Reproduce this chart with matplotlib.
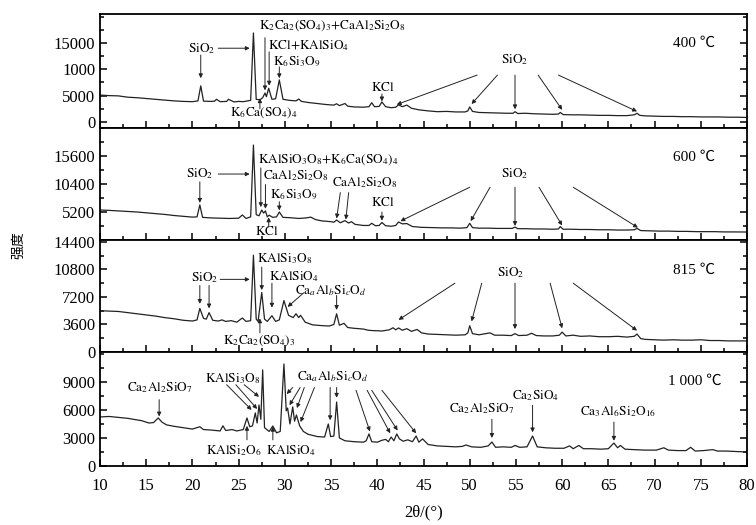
import matplotlib
matplotlib.use("Agg")
import matplotlib.pyplot as plt
from matplotlib.ticker import FixedLocator, FixedFormatter, MultipleLocator

plt.rcParams['font.family'] = ['Liberation Serif', 'Noto Sans CJK SC', 'DejaVu Sans']
plt.rcParams['mathtext.fontset'] = 'stix'

# ---------------- data (2θ in degrees, intensity) ----------------
x400 = [10, 11, 12, 13, 14, 15, 16, 17, 18, 19, 20, 20.6, 20.9, 21.2, 22, 22.4, 22.6, 23, 23.7, 23.9,
        24.5, 25, 25.5, 26.3, 26.6, 26.9, 27.3, 27.6, 27.85, 28.0, 28.25, 28.6, 29.0, 29.4, 29.8, 30.5,
        31.2, 31.5, 31.8, 32.5, 33.5, 34.5, 35.3, 35.6, 35.9, 36.5, 36.8, 37.5, 38.5, 39.1, 39.4, 39.7,
        40.2, 40.5, 40.9, 41.5, 42.0, 42.3, 42.7, 43.2, 43.7, 44.5, 45.5, 46.5, 47.5, 48.5, 49.5, 49.8,
        50.0, 50.3, 51, 52, 53, 54, 54.7, 54.9, 55.2, 56, 57, 58, 59, 59.6, 59.8, 60.1, 61, 62, 63, 64,
        65, 66, 67, 67.8, 68.1, 68.4, 69, 70, 71, 72, 73, 74, 75, 76, 77, 78, 79, 80]
y400 = [5100, 5000, 4950, 4700, 4600, 4450, 4300, 4150, 4000, 3900, 3850, 4000, 6850, 3950, 3900, 3950,
        4300, 3850, 3900, 4300, 3800, 3900, 3850, 4100, 16900, 4300, 4200, 4600, 5500, 4800, 6400, 4300,
        4400, 7980, 4300, 4100, 4000, 4350, 3900, 3700, 3500, 3300, 3200, 3450, 3100, 3500, 3000, 2850,
        2800, 2900, 3650, 2900, 2950, 3800, 2900, 2700, 2800, 3250, 2900, 3200, 2600, 2300, 2100, 1950,
        2000, 1900, 1900, 2100, 2850, 2000, 1800, 1750, 1700, 1650, 1650, 1950, 1600, 1650, 1550, 1500,
        1450, 1500, 1800, 1400, 1350, 1350, 1300, 1250, 1250, 1200, 1200, 1350, 1650, 1250, 1150, 1100,
        1050, 1050, 1000, 1000, 950, 950, 950, 900, 900, 850]

x600 = [10, 11, 12, 13, 14, 15, 16, 17, 18, 19, 20, 20.5, 20.8, 21.1, 22, 23, 24, 25, 25.4, 25.8, 26.3,
        26.6, 26.9, 27.2, 27.5, 27.7, 27.9, 28.1, 28.3, 28.7, 29.1, 29.4, 29.8, 30.5, 31.5, 32.3, 32.8,
        33.3, 34, 35, 35.3, 35.6, 36.0, 36.5, 36.9, 37.2, 37.6, 38.5, 39.1, 39.4, 39.8, 40.2, 40.5, 40.9,
        41.5, 42.0, 42.3, 42.7, 43.2, 43.8, 44.8, 46, 47, 48, 49, 49.7, 50.0, 50.3, 51, 52, 53, 54, 54.6,
        54.9, 55.2, 56, 57, 58, 59, 59.6, 59.8, 60.1, 61, 62, 63, 64, 65, 66, 67, 67.8, 68.1, 68.5, 69.5,
        70.5, 71.5, 72.5, 73.5, 74.5, 75.5, 76.5, 77.5, 78.5, 80]
y600 = [5570, 5500, 5400, 5300, 5200, 5050, 4900, 4750, 4550, 4400, 4250, 4300, 6500, 4200, 4100, 4050,
        4000, 4050, 4650, 4000, 4300, 17640, 4700, 4500, 5570, 5000, 5400, 4300, 4600, 4200, 4300, 5200,
        4200, 4150, 4000, 4100, 4250, 3800, 3550, 3400, 3300, 3700, 3200, 3600, 3150, 3400, 2900, 2700,
        2700, 3100, 2650, 2700, 3250, 2650, 2550, 2700, 3350, 3000, 3050, 2500, 2350, 2300, 2250, 2250,
        2200, 2300, 3100, 2300, 2200, 2200, 2150, 2150, 2150, 2400, 2100, 2100, 2050, 2050, 2000, 2050,
        2500, 2000, 2000, 1950, 1950, 1900, 1900, 1850, 1850, 1900, 2150, 1750, 1700, 1650, 1650, 1600,
        1600, 1550, 1550, 1550, 1500, 1500, 1480]

x815 = [10, 11, 12, 13, 14, 15, 16, 17, 18, 19, 20, 20.5, 20.8, 21.2, 21.5, 21.8, 22.2, 22.8, 23.2, 23.6,
        24.2, 24.8, 25.4, 25.8, 26.3, 26.6, 26.9, 27.1, 27.5, 27.8, 28.1, 28.6, 29.0, 29.4, 29.9, 30.4,
        30.9, 31.2, 31.5, 31.7, 32.2, 33, 34, 34.8, 35.3, 35.6, 35.9, 36.4, 36.8, 37.5, 38.5, 39.0, 39.5,
        40.5, 41.3, 41.7, 42.0, 42.3, 42.7, 43.2, 43.7, 44.3, 44.8, 45.5, 46.5, 47.5, 48.5, 49.5, 49.8,
        50.0, 50.3, 51, 52.2, 52.7, 53.5, 54.5, 54.9, 55.3, 56.2, 56.7, 57.2, 58, 59, 59.7, 60.0, 60.4,
        61.2, 62, 63, 64, 65, 66, 67, 67.8, 68.1, 68.5, 69, 70, 71, 72, 73, 74, 75, 76, 77, 78, 79, 80]
y815 = [5400, 5350, 5300, 5150, 5000, 4850, 4700, 4500, 4350, 4150, 4050, 4200, 5700, 4400, 4300, 5150,
        4150, 4050, 4200, 4000, 4100, 3900, 4450, 4000, 4100, 12670, 4300, 4000, 7790, 4300, 4000, 4750,
        4000, 4200, 6730, 4800, 4500, 5000, 4500, 4800, 3900, 3550, 3450, 3400, 3600, 5000, 3500, 3750,
        3200, 3100, 3000, 2850, 2800, 2750, 2900, 3170, 2900, 3150, 2850, 3050, 2700, 2950, 2500, 2350,
        2300, 2250, 2200, 2250, 2500, 3430, 2400, 2250, 2500, 2200, 2200, 2150, 2400, 2150, 2200, 2450,
        2150, 2100, 2100, 2200, 2600, 2100, 2200, 2050, 2100, 2000, 2000, 2050, 1950, 2050, 2350, 1750,
        1650, 1600, 1550, 1600, 1550, 1550, 1600, 1500, 1500, 1450, 1450, 1450]

x1000 = [10, 11, 12, 13, 13.6, 14.5, 15.3, 15.8, 16.3, 16.7, 17.2, 18, 19, 20, 20.8, 21.2, 22, 23, 23.3,
         23.6, 24.3, 24.8, 25.5, 25.9, 26.2, 26.5, 26.8, 27.0, 27.2, 27.4, 27.6, 27.8, 28.3, 28.7, 29.1,
         29.5, 29.9, 30.15, 30.3, 30.55, 30.85, 31.05, 31.25, 31.6, 32.0, 32.5, 33.5, 34.3, 34.7, 34.95,
         35.3, 35.6, 35.9, 36.5, 37.5, 38.5, 38.8, 39.1, 39.4, 40.0, 40.5, 40.9, 41.2, 41.5, 41.8, 42.1,
         42.4, 42.8, 43.3, 43.8, 44.2, 44.5, 44.9, 45.5, 46.5, 47.5, 48.5, 49.2, 49.6, 50.2, 51.2, 52.0,
         52.4, 52.8, 53.6, 54.5, 54.9, 55.4, 56.2, 56.8, 57.3, 58.2, 59.2, 60.2, 60.8, 61.2, 61.8, 62.3,
         63.2, 64.2, 65.0, 65.6, 66.0, 66.3, 66.8, 67.8, 69, 70.2, 71.0, 71.5, 72.5, 73.4, 73.9, 74.4,
         75.3, 75.8, 76.3, 76.8, 77.8, 78.8, 80]
y1000 = [5250, 5300, 5200, 5100, 5000, 4850, 4600, 4650, 5140, 4700, 4400, 4250, 4100, 3950, 4200, 3900,
         3850, 3750, 4300, 3800, 3900, 3750, 3900, 5140, 4200, 4300, 5680, 4600, 6530, 5000, 10280, 4100,
         3700, 4280, 3550, 3700, 10920, 5900, 6200, 4500, 6320, 4800, 5460, 4300, 3700, 3400, 3150, 3100,
         4500, 3150, 3200, 6850, 3000, 2700, 2600, 2550, 2700, 3430, 2600, 2550, 2750, 2850, 2600, 3100,
         2700, 3430, 2900, 2650, 2800, 2600, 3210, 2550, 2900, 2300, 2150, 2100, 2050, 2100, 2250, 2050,
         2000, 2150, 2570, 2000, 2050, 2000, 2200, 2000, 2050, 3210, 2050, 1950, 1900, 1900, 2150, 1850,
         2200, 1850, 1850, 1800, 1850, 2460, 1950, 2200, 1800, 1750, 1700, 1700, 1950, 1700, 1650, 1650,
         2000, 1600, 1650, 1700, 1750, 1600, 1600, 1550, 1500]

temps = ['400 ℃', '600 ℃', '815 ℃', '1 000 ℃']
ylims = [(-1150, 20500), (0, 20800), (0, 14650), (0, 12200)]
ytick_pos = [[0, 5000, 10000, 15000], [5200, 10400, 15600], [0, 3600, 7200, 10800, 14400], [0, 3000, 6000, 9000]]
ytick_lab = [['0', '5000', '1000', '15000'], ['5200', '10400', '15600'],
             ['0', '3600', '7200', '10800', '14400'], ['0', '3000', '6000', '9000']]
yminor = [2500, 2600, 1800, 1500]
xticks = list(range(10, 81, 5))

series = [(x400, y400), (x600, y600), (x815, y815), (x1000, y1000)]

# annotations: (text, (x, y), ha)
labels = [
    [(r'$\mathrm{SiO_2}$', (21.0, 14000), 'center'),
     (r'$\mathrm{K_2Ca_2(SO_4)_3{+}CaAl_2Si_2O_8}$', (27.2, 18300), 'left'),
     (r'$\mathrm{KCl{+}KAlSiO_4}$', (28.15, 14500), 'left'),
     (r'$\mathrm{K_6Si_3O_9}$', (28.7, 11300), 'left'),
     (r'$\mathrm{K_6Ca(SO_4)_4}$', (24.1, 1700), 'left'),
     (r'$\mathrm{KCl}$', (40.6, 6500), 'center'),
     (r'$\mathrm{SiO_2}$', (54.9, 11800), 'center')],
    [(r'$\mathrm{SiO_2}$', (20.8, 12250), 'center'),
     (r'$\mathrm{KAlSiO_3O_8{+}K_6Ca(SO_4)_4}$', (27.1, 15000), 'left'),
     (r'$\mathrm{CaAl_2Si_2O_8}$', (27.65, 11900), 'left'),
     (r'$\mathrm{K_6Si_3O_9}$', (28.4, 8400), 'left'),
     (r'$\mathrm{KCl}$', (28.1, 1500), 'center'),
     (r'$\mathrm{CaAl_2Si_2O_8}$', (35.1, 10600), 'left'),
     (r'$\mathrm{KCl}$', (40.6, 6900), 'center'),
     (r'$\mathrm{SiO_2}$', (54.9, 12400), 'center')],
    [(r'$\mathrm{SiO_2}$', (21.3, 9750), 'center'),
     (r'$\mathrm{KAlSi_3O_8}$', (27.0, 12250), 'left'),
     (r'$\mathrm{KAlSiO_4}$', (28.3, 9900), 'left'),
     (r'$\mathrm{Ca}_a\mathrm{Al}_b\mathrm{Si}_c\mathrm{O}_d$', (31.1, 8050), 'left'),
     (r'$\mathrm{K_2Ca_2(SO_4)_3}$', (23.3, 1450), 'left'),
     (r'$\mathrm{SiO_2}$', (54.4, 10400), 'center')],
    [(r'$\mathrm{Ca_2Al_2SiO_7}$', (16.5, 8350), 'center'),
     (r'$\mathrm{KAlSi_3O_8}$', (24.3, 9400), 'center'),
     (r'$\mathrm{KAlSi_2O_6}$', (24.5, 1700), 'center'),
     (r'$\mathrm{KAlSiO_4}$', (30.7, 1700), 'center'),
     (r'$\mathrm{Ca}_a\mathrm{Al}_b\mathrm{Si}_c\mathrm{O}_d$', (35.2, 9600), 'center'),
     (r'$\mathrm{Ca_2Al_2SiO_7}$', (51.3, 6100), 'center'),
     (r'$\mathrm{Ca_2SiO_4}$', (57.1, 7500), 'center'),
     (r'$\mathrm{Ca_3Al_6Si_2O_{16}}$', (66.0, 5800), 'center')],
]

# arrows: (start, end)
arrows = [
    [((20.9, 12700), (20.9, 8300)), ((22.8, 14000), (26.2, 14000)),
     ((27.85, 16000), (27.85, 6000)), ((28.3, 13300), (28.3, 6900)),
     ((29.4, 10450), (29.4, 8300)), ((27.3, 2500), (27.3, 4500)),
     ((40.5, 5300), (40.5, 3900)),
     ((50.8, 8900), (42.1, 3300)), ((53.0, 8900), (50.2, 3400)), ((54.9, 8900), (54.9, 2400)),
     ((57.4, 8900), (60.0, 2300)), ((59.6, 8900), (68.1, 2000))],
    [((20.8, 10800), (20.8, 6900)), ((22.8, 12250), (26.2, 12250)),
     ((27.4, 13400), (27.4, 6100)), ((27.9, 10300), (27.9, 5800)),
     ((29.4, 7100), (29.4, 5500)), ((28.25, 2400), (28.25, 4200)),
     ((36.0, 8800), (35.6, 4000)), ((36.9, 8800), (36.6, 3800)),
     ((40.5, 5200), (40.5, 3600)),
     ((50.0, 9800), (42.5, 3500)), ((52.2, 9800), (50.1, 3500)), ((54.9, 9800), (54.9, 2600)),
     ((57.5, 9800), (60.0, 2700)), ((61.2, 9800), (68.2, 2300))],
    [((20.8, 8700), (20.8, 6300)), ((21.8, 8700), (21.8, 5700)), ((23.0, 9500), (26.2, 9500)),
     ((27.5, 11100), (27.5, 8100)), ((28.6, 9000), (28.6, 5800)),
     ((32.0, 7700), (30.3, 5900)), ((35.6, 7400), (35.6, 5500)),
     ((27.3, 2500), (27.3, 4400)),
     ((48.4, 9000), (42.3, 4200)), ((51.3, 9000), (50.2, 4000)), ((54.9, 9000), (54.9, 3000)),
     ((58.7, 9000), (60.0, 3100)), ((61.2, 9000), (68.1, 2800))],
    [((16.4, 7100), (16.4, 5300)),
     ((23.7, 8700), (26.4, 6000)), ((24.7, 8700), (27.0, 6100)), ((25.6, 8700), (27.2, 7400)),
     ((25.9, 2800), (25.9, 4300)), ((28.7, 2800), (28.7, 4200)),
     ((30.85, 8400), (30.2, 7700)), ((31.65, 8400), (30.5, 6500)), ((32.1, 8400), (31.3, 6200)),
     ((33.2, 8400), (31.7, 4700)), ((34.9, 8400), (34.9, 4900)), ((35.6, 8400), (35.6, 7300)),
     ((37.7, 8100), (39.2, 3700)), ((38.9, 8100), (41.4, 3500)), ((39.4, 8100), (42.2, 3800)),
     ((40.5, 8100), (44.2, 3500)),
     ((52.4, 5000), (52.4, 3000)), ((56.8, 6500), (56.8, 3600)), ((65.6, 4700), (65.6, 2700))],
]

fig = plt.figure(figsize=(7.56, 5.25), dpi=100)
left, right = 100 / 756, 747 / 756
edges = [14, 128, 240, 352, 466]
axes = []
for i in range(4):
    top = 1 - edges[i] / 525
    bot = 1 - edges[i + 1] / 525
    ax = fig.add_axes([left, bot, right - left, top - bot])
    axes.append(ax)
    xs, ys = series[i]
    ax.plot(xs, ys, color='#222222', lw=0.9)
    ax.set_xlim(10, 80)
    ax.set_ylim(*ylims[i])
    ax.xaxis.set_major_locator(FixedLocator(xticks))
    ax.xaxis.set_minor_locator(MultipleLocator(2.5))
    ax.yaxis.set_major_locator(FixedLocator(ytick_pos[i]))
    ax.yaxis.set_major_formatter(FixedFormatter(ytick_lab[i]))
    ax.yaxis.set_minor_locator(MultipleLocator(yminor[i]))
    ax.tick_params(which='both', direction='in', right=True, top=False, width=1.1)
    ax.tick_params(which='major', length=5, labelsize=12)
    ax.tick_params(which='minor', length=3)
    ax.tick_params(axis='x', which='major', pad=9)
    if i < 3:
        ax.tick_params(labelbottom=False)
    for s in ax.spines.values():
        s.set_linewidth(1.3)
    ax.text(74.3, ylims[i][1] * [0.73, 0.74, 0.73, 0.74][i], temps[i], ha='center', va='center', fontsize=11)
    for txt, (tx, ty), ha in labels[i]:
        ax.text(tx, ty, txt, ha=ha, va='center', fontsize=9.5)
    for (sx, sy), (ex, ey) in arrows[i]:
        ax.annotate('', xy=(ex, ey), xytext=(sx, sy),
                    arrowprops=dict(arrowstyle='-|>', lw=0.7, color='#222222',
                                    mutation_scale=6, shrinkA=0, shrinkB=0))

axes[-1].set_xlabel('2θ/(°)', fontsize=12, labelpad=7)
fig.text(0.024, 0.533, '强度', rotation=90, ha='center', va='center', fontsize=10,
         family=['Noto Sans CJK SC', 'DejaVu Sans'])

fig.savefig('out.png', dpi=100)
